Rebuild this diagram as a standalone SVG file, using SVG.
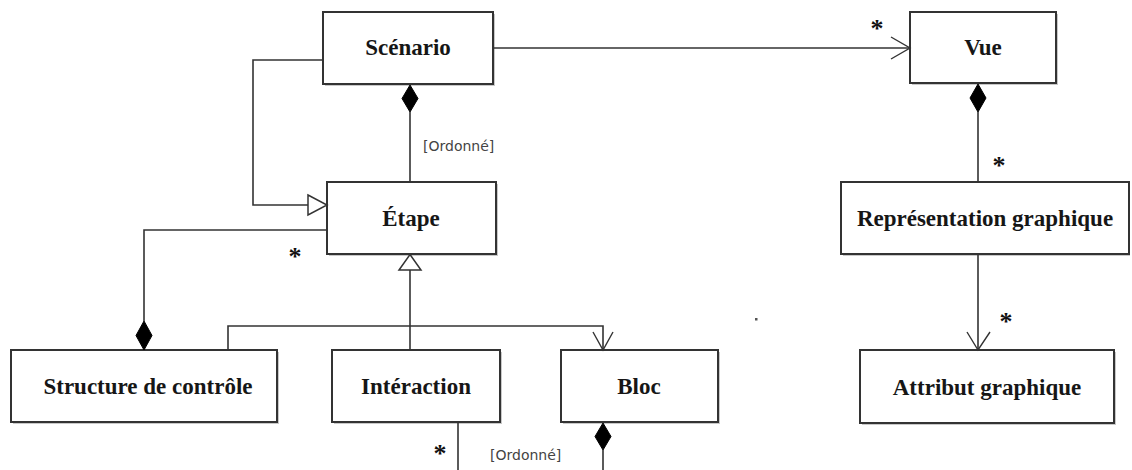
<svg xmlns="http://www.w3.org/2000/svg" width="1132" height="470" viewBox="0 0 1132 470">
  <style>
    .shadow { fill: #c8c8c8; stroke: none; }
    .box { fill: #ffffff; stroke: #333333; stroke-width: 2; }
    .name { font-family: "Liberation Serif", "Times New Roman", serif; font-weight: bold; font-size: 23px; fill: #161616; text-anchor: middle; }
    .line { fill: none; stroke: #333333; stroke-width: 1.6; }
    .open { fill: none; stroke: #333333; stroke-width: 1.4; }
    .hollow { fill: #ffffff; stroke: #333333; stroke-width: 1.5; }
    .filled { fill: #000000; stroke: #000000; stroke-width: 1; }
    .note { font-family: "DejaVu Sans", "Noto Sans", sans-serif; font-size: 14px; fill: #444444; }
    .mult { font-family: "Liberation Serif", "Times New Roman", serif; font-weight: bold; font-size: 26px; fill: #111111; text-anchor: middle; }
  </style>

  <rect width="1132" height="470" fill="#ffffff"/>

  <!-- classes -->
  <g id="scenario">
    <rect class="shadow" x="325" y="14" width="170" height="72"/>
    <rect class="box" x="323" y="12" width="170" height="72"/>
    <text class="name" x="408" y="55">Scénario</text>
  </g>
  <g id="vue">
    <rect class="shadow" x="912" y="14" width="146" height="71"/>
    <rect class="box" x="910" y="12" width="146" height="71"/>
    <text class="name" x="983" y="55">Vue</text>
  </g>
  <g id="etape">
    <rect class="shadow" x="329" y="184" width="169" height="72"/>
    <rect class="box" x="327" y="182" width="169" height="72"/>
    <text class="name" x="411" y="226">Étape</text>
  </g>
  <g id="representation-graphique">
    <rect class="shadow" x="843" y="184" width="287" height="72"/>
    <rect class="box" x="841" y="182" width="288" height="72"/>
    <text class="name" x="985" y="226">Représentation graphique</text>
  </g>
  <g id="structure-de-controle">
    <rect class="shadow" x="13" y="352" width="266" height="72"/>
    <rect class="box" x="11" y="350" width="266" height="72"/>
    <text class="name" x="148" y="394">Structure de contrôle</text>
  </g>
  <g id="interaction">
    <rect class="shadow" x="334" y="352" width="168" height="72"/>
    <rect class="box" x="332" y="350" width="168" height="72"/>
    <text class="name" x="416" y="394">Intéraction</text>
  </g>
  <g id="bloc">
    <rect class="shadow" x="563" y="352" width="157" height="72"/>
    <rect class="box" x="561" y="350" width="157" height="72"/>
    <text class="name" x="639" y="394">Bloc</text>
  </g>
  <g id="attribut-graphique">
    <rect class="shadow" x="862" y="352" width="254" height="73"/>
    <rect class="box" x="860" y="350" width="254" height="73"/>
    <text class="name" x="987" y="395">Attribut graphique</text>
  </g>

  <!-- connectors -->
  <g id="connectors">
    <!-- Scénario -> Vue (navigable association) -->
    <path class="line" d="M493,48 H910"/>
    <path class="open" d="M891,37 L910,48 L891,59"/>
    <text class="mult" x="877" y="37">*</text>

    <!-- Scénario composed of ordered Étapes -->
    <path class="line" d="M410,112 V182"/>
    <polygon class="filled" points="410,85 418,98.5 410,112 402,98.5"/>
    <text class="note" x="423" y="151">[Ordonné]</text>

    <!-- Scénario specializes Étape -->
    <path class="line" d="M323,60 H253 V205 H308"/>
    <polygon class="hollow" points="308,195 327,205 308,215"/>

    <!-- Structure de contrôle composed of Étapes -->
    <path class="line" d="M327,230 H144 V321"/>
    <polygon class="filled" points="144,321 152,335.5 144,350 136,335.5"/>
    <text class="mult" x="295" y="265">*</text>

    <!-- Structure de contrôle -> Bloc -->
    <path class="line" d="M228,350 V326 H603 V350"/>
    <path class="open" d="M593,332 L603,350 L613,332"/>

    <!-- Interaction (and the others) specialize Étape -->
    <path class="line" d="M410,350 V270"/>
    <polygon class="hollow" points="410,254.5 421,270 399,270"/>

    <!-- Bloc composed of ordered Interactions -->
    <path class="line" d="M458,422 V470 M603,450 V470"/>
    <polygon class="filled" points="603,423 611,436.5 603,450 595,436.5"/>
    <text class="mult" x="440" y="462">*</text>
    <text class="note" x="490" y="460">[Ordonné]</text>

    <!-- Vue composed of Représentations graphiques -->
    <path class="line" d="M978,112 V182"/>
    <polygon class="filled" points="978,84 986,98 978,112 970,98"/>
    <text class="mult" x="999" y="174">*</text>

    <!-- Représentation graphique -> Attribut graphique -->
    <path class="line" d="M978,254 V350"/>
    <path class="open" d="M967,332 L978,350 L990,332"/>
    <text class="mult" x="1006" y="330">*</text>
  </g>

  <!-- small stray mark -->
  <rect x="755" y="318" width="2.5" height="2.5" fill="#555555"/>
</svg>
